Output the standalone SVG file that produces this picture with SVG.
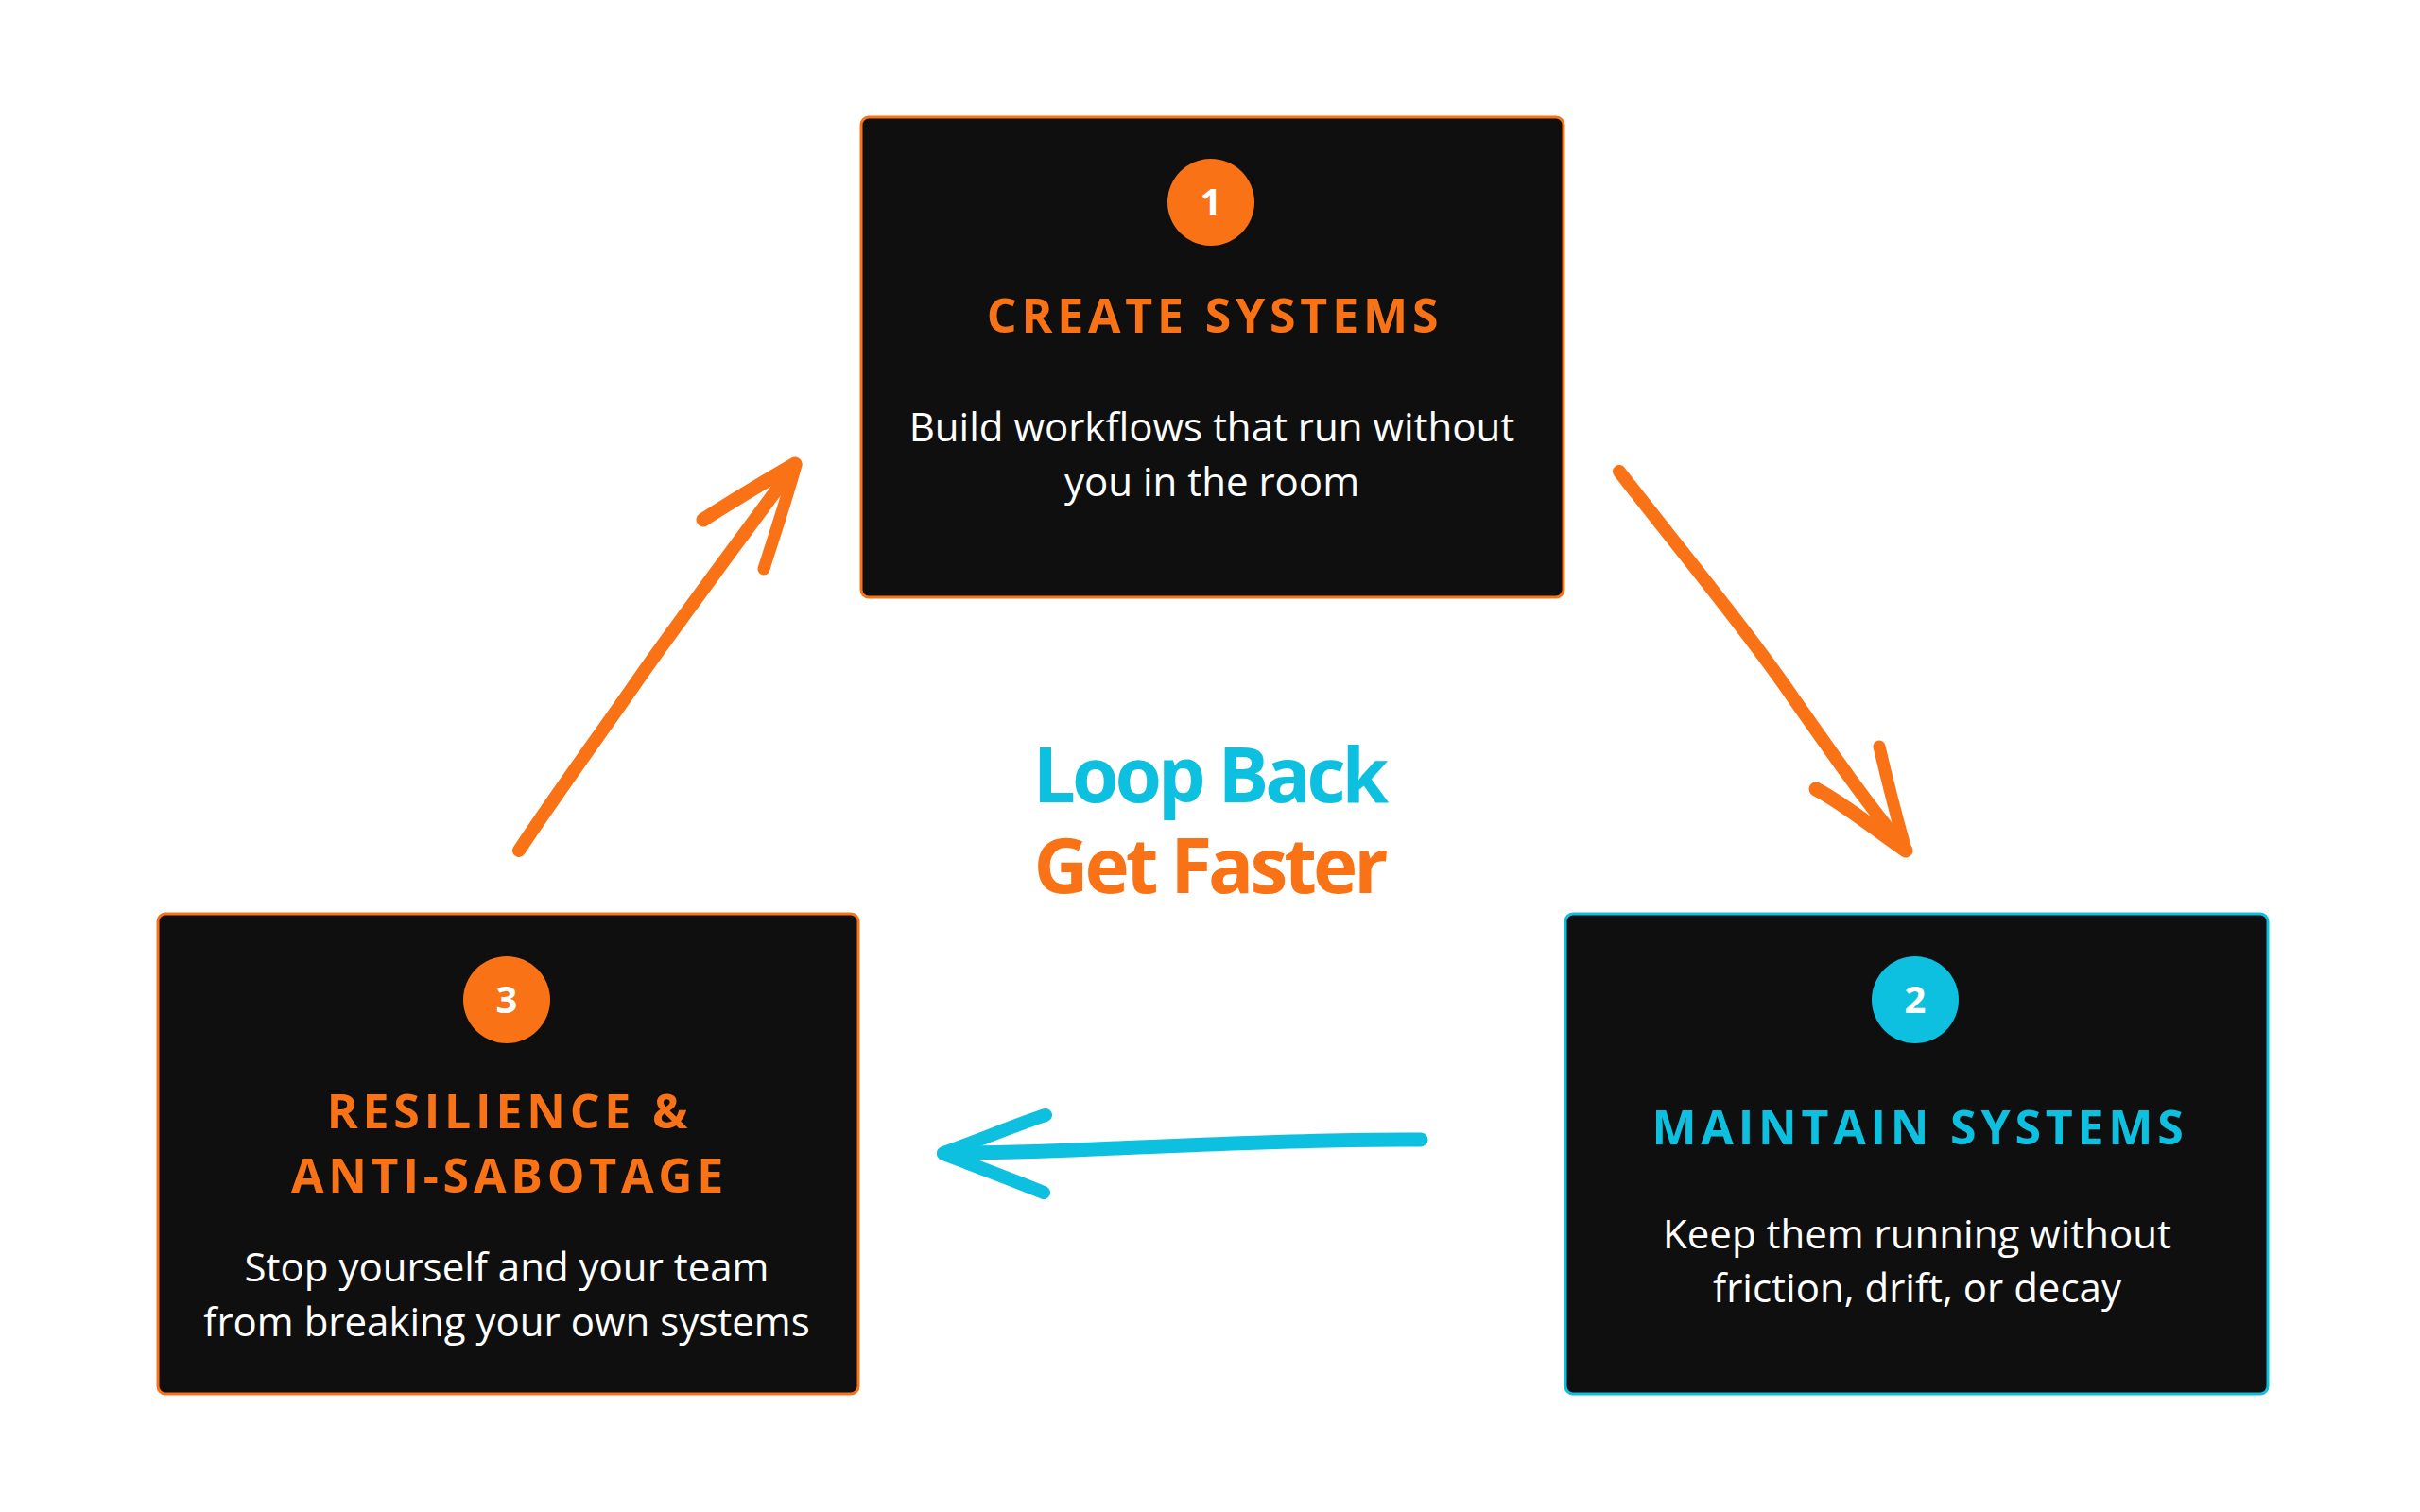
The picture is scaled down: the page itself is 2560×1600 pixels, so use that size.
<svg xmlns="http://www.w3.org/2000/svg" width="2560" height="1600" viewBox="0 0 2560 1600">
<style>
.box{fill:#0f0f0f;stroke-width:3}
.bo{stroke:#f97316}
.bc{stroke:#0ec0e0}
.num{font-family:'Open Sans','Liberation Sans',sans-serif;font-weight:700;font-size:40px;fill:#ffffff;text-anchor:middle}
.title{font-family:'Open Sans','Liberation Sans',sans-serif;font-weight:700;font-size:50px;letter-spacing:4.8px;text-anchor:middle}
.body{font-family:'Open Sans','Liberation Sans',sans-serif;font-weight:400;font-size:42px;fill:#ffffff;text-anchor:middle}
.center{font-family:'Open Sans','Liberation Sans',sans-serif;font-weight:700;font-size:80px;letter-spacing:-4px;text-anchor:middle}
.o{fill:#f97316}
.c{fill:#0ec0e0}
.ao{fill:none;stroke:#f97316;stroke-linecap:round;stroke-linejoin:round}
.ac{fill:none;stroke:#0ec0e0;stroke-linecap:round;stroke-linejoin:round}
</style>
<rect width="2560" height="1600" fill="#ffffff"/>
<g id="connectors">
<g id="arrow-3-to-1">
<path class="ao" stroke-width="14" d="M549,900 C590,838 640,770 680,712 C720,655 780,575 835,500"/>
<path class="ao" stroke-width="15" d="M841,491 C800,515 770,533 744,550"/>
<path class="ao" stroke-width="13" d="M842,492 C830,535 818,570 808,602"/>
</g>
<g id="arrow-1-to-2">
<path class="ao" stroke-width="14" d="M1713,499 C1780,585 1850,670 1898,740 C1940,800 1975,850 2010,892"/>
<path class="ao" stroke-width="15" d="M2016,900 C1980,875 1950,850 1921,835"/>
<path class="ao" stroke-width="13" d="M2016,899 C2005,860 1995,820 1988,790"/>
</g>
<g id="arrow-2-to-3">
<path class="ac" stroke-width="15" d="M1503,1206 C1400,1205 1250,1212 1180,1215 C1100,1219 1040,1220 1000,1220"/>
<path class="ac" stroke-width="14" d="M998,1220 C1040,1205 1075,1190 1106,1180"/>
<path class="ac" stroke-width="14" d="M998,1221 C1040,1237 1075,1250 1104,1262"/>
</g>
</g>
<g id="node-1">
<rect class="box bo" x="911" y="124" width="743" height="508" rx="8"/>
<circle cx="1281" cy="214" r="46" class="o"/>
<text class="num" x="1281" y="228">1</text>
<text class="title o" x="1285" y="352">CREATE SYSTEMS</text>
<text class="body" x="1282" y="467">Build workflows that run without</text>
<text class="body" x="1282" y="525">you in the room</text>
</g>
<g id="node-2">
<rect class="box bc" x="1656" y="967" width="743" height="508" rx="8"/>
<circle cx="2026" cy="1058" r="46" class="c"/>
<text class="num" x="2026" y="1072">2</text>
<text class="title c" x="2031" y="1211">MAINTAIN SYSTEMS</text>
<text class="body" x="2028" y="1321">Keep them running without</text>
<text class="body" x="2028" y="1378">friction, drift, or decay</text>
</g>
<g id="node-3">
<rect class="box bo" x="167" y="967" width="741" height="508" rx="8"/>
<circle cx="536" cy="1058" r="46" class="o"/>
<text class="num" x="536" y="1072">3</text>
<text class="title o" x="539" y="1194">RESILIENCE &amp;</text>
<text class="title o" x="539" y="1262">ANTI-SABOTAGE</text>
<text class="body" x="536" y="1356">Stop yourself and your team</text>
<text class="body" x="536" y="1414">from breaking your own systems</text>
</g>
<g id="center-label">
<text class="center c" x="1279" y="849">Loop Back</text>
<text class="center o" x="1279" y="945">Get Faster</text>
</g>
</svg>
